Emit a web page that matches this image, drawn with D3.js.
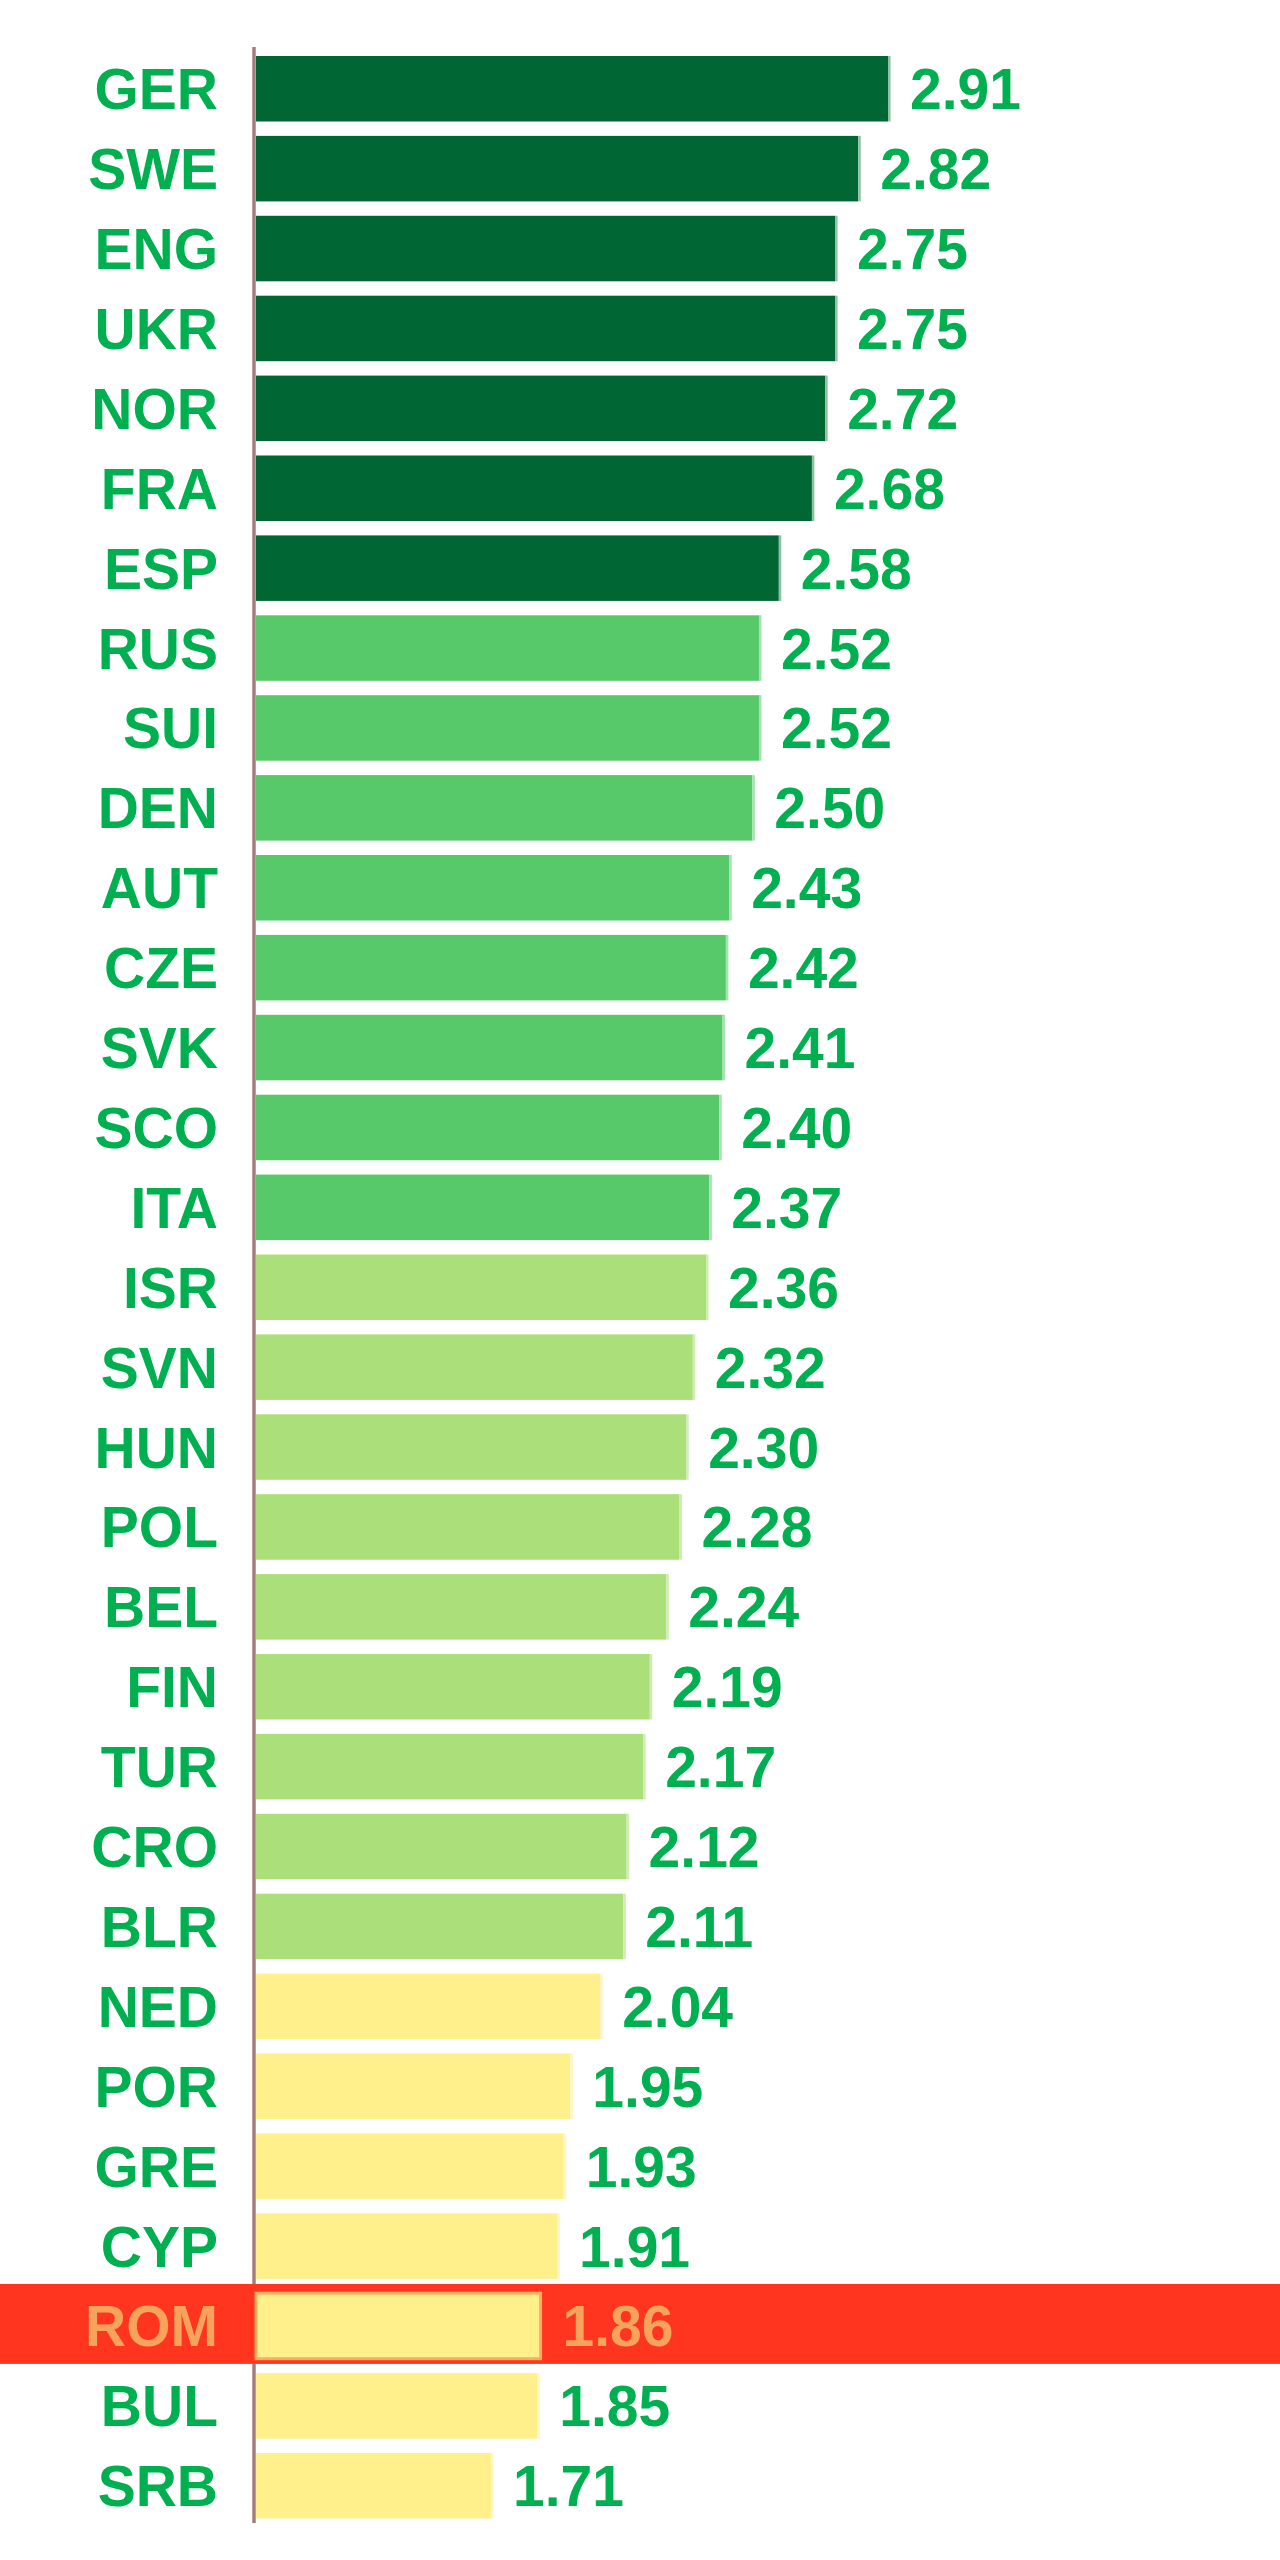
<!DOCTYPE html>
<html>
<head>
<meta charset="utf-8">
<script src="https://cdn.jsdelivr.net/npm/d3@7/dist/d3.min.js"></script>
<style>
  html, body { margin: 0; padding: 0; background: #ffffff; }
  svg { display: block; }
</style>
</head>
<body>
<div id="chart"></div>
<script>
const categories = ["GER","SWE","ENG","UKR","NOR","FRA","ESP","RUS","SUI","DEN","AUT","CZE","SVK","SCO","ITA","ISR","SVN","HUN","POL","BEL","FIN","TUR","CRO","BLR","NED","POR","GRE","CYP","ROM","BUL","SRB"];
const values = [2.91,2.82,2.75,2.75,2.72,2.68,2.58,2.52,2.52,2.50,2.43,2.42,2.41,2.40,2.37,2.36,2.32,2.30,2.28,2.24,2.19,2.17,2.12,2.11,2.04,1.95,1.93,1.91,1.86,1.85,1.71];
const tiers = [0,0,0,0,0,0,0,1,1,1,1,1,1,1,1,2,2,2,2,2,2,2,2,2,3,3,3,3,3,3,3];
const tierColors = ["#006633","#58c96b","#aadf7a","#fff08c"];
const tierEdges = ["#8fc0a0","#a6e2b0","#cdeeb0","#fff6c4"];
const highlighted = "ROM";

const W = 1280, H = 2560;
const svg = d3.select("#chart").append("svg").attr("width", W).attr("height", H);

const x = d3.scaleLinear().domain([1, 3]).range([256, 917.8]);
const y = d3.scaleBand().domain(categories).range([48.8, 2525.7]).paddingInner(0.18).paddingOuter(0.09);

const data = categories.map((c, i) => ({ c, v: values[i], t: tiers[i] }));

// axis line
svg.append("line")
  .attr("x1", 254).attr("x2", 254)
  .attr("y1", 47).attr("y2", 2523)
  .attr("stroke", "#a67c7a").attr("stroke-width", 3.5);

// highlight band
const hb = y(highlighted) + y.bandwidth() / 2;
svg.append("rect")
  .attr("x", 0).attr("width", W)
  .attr("y", hb - y.step() / 2 - 2).attr("height", y.step())
  .attr("fill", "#ff3520");

// bars
svg.selectAll("rect.bar").data(data).enter().append("rect")
  .attr("class", "bar")
  .attr("x", x(1))
  .attr("y", d => y(d.c))
  .attr("width", d => x(d.v) - x(1))
  .attr("height", y.bandwidth())
  .attr("fill", d => tierColors[d.t])
  .attr("stroke", d => d.c === highlighted ? "#f8b060" : "none")
  .attr("stroke-width", 3);

// light right edge of bars
svg.selectAll("rect.edge").data(data.filter(d => d.c !== highlighted)).enter().append("rect")
  .attr("class", "edge")
  .attr("x", d => x(d.v))
  .attr("y", d => y(d.c))
  .attr("width", 2.5)
  .attr("height", y.bandwidth())
  .attr("fill", d => tierEdges[d.t]);

const font = "'Liberation Sans', Arial, sans-serif";

// category labels
svg.selectAll("text.cat").data(data).enter().append("text")
  .attr("class", "cat")
  .attr("x", 218)
  .attr("y", d => y(d.c) + y.bandwidth() / 2)
  .attr("dy", "0.36em")
  .attr("text-anchor", "end")
  .attr("font-family", font)
  .attr("font-weight", "bold")
  .attr("font-size", 57)
  .attr("fill", d => d.c === highlighted ? "#f7a35c" : "#00b050")
  .text(d => d.c);

// value labels
svg.selectAll("text.val").data(data).enter().append("text")
  .attr("class", "val")
  .attr("x", d => x(d.v) + 22)
  .attr("y", d => y(d.c) + y.bandwidth() / 2)
  .attr("dy", "0.36em")
  .attr("text-anchor", "start")
  .attr("font-family", font)
  .attr("font-weight", "bold")
  .attr("font-size", 57)
  .attr("fill", d => d.c === highlighted ? "#f7a35c" : "#00b050")
  .text(d => d3.format(".2f")(d.v));
</script>
</body>
</html>
